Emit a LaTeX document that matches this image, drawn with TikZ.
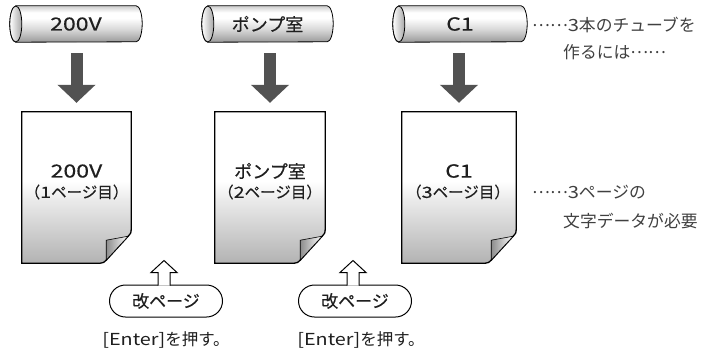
\documentclass[tikz,border=0pt]{standalone}
\usepackage{fontspec}
\setmainfont{Noto Sans CJK JP}
\newfontfamily\jpm[FakeBold=0.35]{Noto Sans CJK JP}
\newfontfamily\latf[FakeStretch=1.28,FakeBold=0.35]{Noto Sans CJK JP}
\newfontfamily\latn[FakeStretch=1.2]{Noto Sans CJK JP}
\usetikzlibrary{arrows.meta,backgrounds}
\pgfdeclareverticalshading{tubeshade}{100bp}{color(0bp)=(black!40); color(25bp)=(black!40); color(42bp)=(black!16); color(58bp)=(white); color(66bp)=(white); color(75bp)=(black!20); color(100bp)=(black!20)}
\pgfdeclareverticalshading{pageshade}{100bp}{color(0bp)=(black!30); color(25bp)=(black!30); color(46bp)=(black!8); color(52bp)=(white); color(100bp)=(white)}
\newcommand\drawtube[1]{%
  \path[tubefill] ([xshift=6pt]#1.north west) -- ([xshift=-6pt]#1.north east)
    arc[start angle=90,end angle=-90,x radius=6pt,y radius=18pt]
    -- ([xshift=6pt]#1.south west)
    arc[start angle=270,end angle=90,x radius=6pt,y radius=18pt] -- cycle;
  \path[tubeend] ([xshift=6pt]#1.west) ellipse[x radius=6pt,y radius=18pt];
}
\newcommand\drawpage[1]{%
  \path[pagefill] (#1.north west) -- (#1.north east) -- ([shift={(0,-34)}]#1.south east)
    .. controls ([shift={(0,-30)}]#1.south east) and ([shift={(-1,-29)}]#1.south east) .. ([shift={(-3,-27)}]#1.south east)
    -- ([shift={(-25,-3)}]#1.south east)
    .. controls ([shift={(-27,-1)}]#1.south east) and ([shift={(-28,0)}]#1.south east) .. ([shift={(-31,0)}]#1.south east)
    -- (#1.south west) -- cycle;
  \path[flapfill] ([shift={(-25,-23)}]#1.south east) -- ([shift={(-3,-27)}]#1.south east) -- ([shift={(-25,-3)}]#1.south east) -- cycle;
}
\newcommand\mdots{\raisebox{0.3em}{……}}
\begin{document}
\begin{tikzpicture}[x=1pt,y=-1pt,
  tubebox/.style={minimum width=#1, minimum height=36pt, inner sep=0pt, font=\fontsize{18}{20}\selectfont\jpm, text=black!88},
  tubefill/.style={draw=black, line width=0.8pt, shade, shading=tubeshade},
  tubeend/.style={draw=black, line width=0.8pt, left color=white, right color=black!35},
  pagebox/.style={minimum width=#1, minimum height=151pt, inner sep=0pt},
  pagefill/.style={draw=black, line width=1.3pt, shade, shading=pageshade},
  flapfill/.style={draw=black, line width=0.6pt, left color=black!45, right color=white},
  biglabel/.style={font=\fontsize{18}{20}\selectfont\jpm, text=black!88, inner sep=0pt},
  sublabel/.style={font=\fontsize{15.5}{17}\selectfont\jpm, text=black!88, inner sep=0pt},
  bigarrow/.style={line width=12pt, draw=black!68, -{Triangle[width=37pt,length=18pt]}},
  pill/.style={draw=black, line width=1pt, fill=white, rounded corners=16pt, minimum width=113pt, minimum height=32pt, inner sep=0pt, font=\fontsize{17}{19}\selectfont\jpm, text=black!88},
  uparrow/.style={draw=black, line width=1pt, fill=white, line join=miter},
  entertext/.style={font=\fontsize{16.5}{18}\selectfont, text=black!88, inner sep=0pt},
  note/.style={font=\fontsize{16.8}{18}\selectfont, text=black!75, inner sep=0pt, anchor=west}
]
\useasboundingbox (0,0) rectangle (711,359);

% tubes
\node[tubebox=132pt] (tube1) at (76,24) {\latf 200V};
\node[tubebox=131pt] (tube2) at (267.5,24) {ポンプ室};
\node[tubebox=134pt] (tube3) at (460,24) {\latf C1};

% pages
\node[pagebox=109pt] (page1) at (76.5,187.5) {};
\node[pagebox=110pt] (page2) at (270,187.5) {};
\node[pagebox=114pt] (page3) at (459,187.5) {};

\begin{pgfonlayer}{background}
  \fill[white] (0,0) rectangle (711,359);
  \drawtube{tube1}
  \drawtube{tube2}
  \drawtube{tube3}
  \drawpage{page1}
  \drawpage{page2}
  \drawpage{page3}
\end{pgfonlayer}

\node[biglabel] (p1a) at (76.5,171) {\latf 200V};
\node[sublabel] (p1b) at (76.5,192) {（{\latf 1}ページ目）};
\node[biglabel] (p2a) at (270,171) {ポンプ室};
\node[sublabel] (p2b) at (270,192) {（{\latf 2}ページ目）};
\node[biglabel] (p3a) at (459,171) {\latf C1};
\node[sublabel] (p3b) at (458,192) {（{\latf 3}ページ目）};

% down arrows
\draw[bigarrow] ([yshift=-11pt]page1.north |- tube1.south) -- ([yshift=9pt]page1.north);
\draw[bigarrow] ([yshift=-11pt]page2.north |- tube2.south) -- ([yshift=9pt]page2.north);
\draw[bigarrow] ([yshift=-11pt]page3.north |- tube3.south) -- ([yshift=9pt]page3.north);

% page-break pills
\node[pill] (pill1) at (166,301) {改ページ};
\node[pill] (pill2) at (355,301) {改ページ};
\draw[uparrow] ([shift={(4,1)}]pill1.north) -- ++(0,-13) -- ++(7,0) -- ++(-13,-12) -- ++(-13,12) -- ++(7,0) -- ++(0,13);
\draw[uparrow] ([shift={(4,1)}]pill2.north) -- ++(0,-13) -- ++(7,0) -- ++(-13,-12) -- ++(-13,12) -- ++(7,0) -- ++(0,13);

\node[entertext] (enter1) at (166,340) {{\latn [Enter]}を押す。};
\node[entertext] (enter2) at (361,340) {{\latn [Enter]}を押す。};

% notes
\node[note] (n1) at (532,25) {\mdots{\latn 3}本のチューブを};
\node[note] (n2) at (563,52) {作るには\mdots};
\node[note] (n3) at (532,192) {\mdots{\latn 3}ページの};
\node[note] (n4) at (563,221) {文字データが必要};
\end{tikzpicture}
\end{document}
